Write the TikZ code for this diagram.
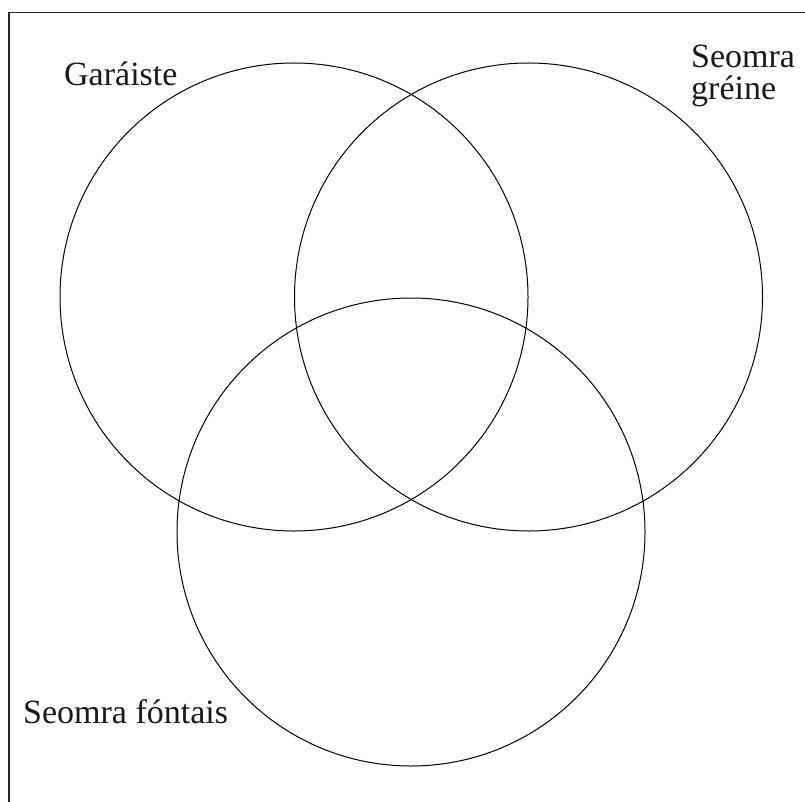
\documentclass[tikz,border=0pt]{standalone}
\usepackage{fontspec}
\setmainfont{Liberation Serif}
\begin{document}
\begin{tikzpicture}[x=1pt,y=-1pt,
  venn/.style={draw=black,line width=1pt,circle,minimum size=468pt,inner sep=0pt},
  lbl/.style={anchor=base west,inner sep=0pt,font=\fontsize{34}{32}\selectfont,text=black!90}]
\useasboundingbox (0,0) rectangle (805,802);
\fill[white] (0,0) rectangle (805,802);
\begin{scope}
\clip (0,0) rectangle (805,802);
\draw[line width=1.5pt,black!85] (9,830) rectangle (830,12.5);
\end{scope}
\node[venn] (A) at (294,297) {};
\node[venn] (B) at (528.5,297) {};
\node[venn] (C) at (411,532) {};
\node[lbl] (la) at (64,86) {Garáiste};
\node[lbl,align=left] (lb) at (691,100) {Seomra\\gréine};
\node[lbl] (lc) at (23,723) {Seomra fóntais};
\end{tikzpicture}
\end{document}
